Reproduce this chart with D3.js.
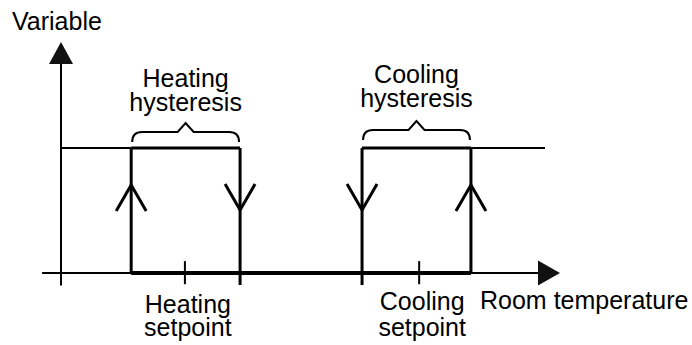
<html>
<head>
<style type="text/css">
	body { margin: 0; background: white; }
	.chart text { fill: black; font-family: "Liberation Sans", Arial, sans-serif; font-size: 25px; text-anchor: middle; }
</style>
</head>
<body>
<svg class="chart" width=692 height=345></svg>
<script src='https://d3js.org/d3.v7.min.js'></script>
<script>
// room temperature positions (arbitrary units on the x axis)
var heatingBand = [14.5, 37];      // heating on / off
var coolingBand = [62.2, 84.7];    // cooling off / on
var setpoints = [25.6, 74.0];      // heating setpoint, cooling setpoint
var xAxisExtent = [-3.9, 100];
// variable level: 0 = off, 1 = on
var levels = [0, 1];
var yAxisExtent = [-0.1, 1.68];

var topLabels = [["Heating", "hysteresis"], ["Cooling", "hysteresis"]];
var bottomLabels = [["Heating", "setpoint"], ["Cooling", "setpoint"]];
var axisLabels = ["Variable", "Room temperature"];

//Define Scales
var x = d3.scaleLinear()
	.domain([0, 100])
	.range([61, 545]);

var y = d3.scaleLinear()
	.domain([0, 1])
	.range([273, 148]);

var svg = d3.select("svg");
var line = d3.line();

function seg(x1, y1, x2, y2, w) {
	svg.append("path")
		.attr("d", line([[x(x1), y(y1)], [x(x2), y(y2)]]))
		.attr("stroke", "black")
		.attr("stroke-width", w)
		.attr("fill", "none");
}

//Axes
seg(xAxisExtent[0], levels[0], xAxisExtent[1], levels[0], 2);
seg(0, yAxisExtent[0], 0, yAxisExtent[1], 2);

// arrow heads
var xEnd = x(xAxisExtent[1]);
svg.append("path")
	.attr("d", line([[xEnd - 7, y(0) - 12.5], [xEnd + 15, y(0)], [xEnd - 7, y(0) + 12.5]]) + "Z")
	.attr("fill", "#111");
var yEnd = y(yAxisExtent[1]);
svg.append("path")
	.attr("d", line([[x(0) - 12, yEnd + 1], [x(0), yEnd - 21], [x(0) + 12, yEnd + 1]]) + "Z")
	.attr("fill", "#111");

//Setpoint ticks
setpoints.forEach(function(s) {
	seg(s, -0.09, s, 0.095, 2);
});

//Hysteresis loops
// top line of heating starts from y axis
seg(0, 1, heatingBand[0], 1, 2);
seg(heatingBand[0], 1, heatingBand[1], 1, 3);
seg(coolingBand[0], 1, coolingBand[1], 1, 3);
seg(coolingBand[1], 1, xAxisExtent[1], 1, 2);
// bottom (off) line
seg(heatingBand[0], 0, coolingBand[1], 0, 4);
// verticals, the off switches reach below the axis
seg(heatingBand[0], 0, heatingBand[0], 1, 3);
seg(heatingBand[1], -0.096, heatingBand[1], 1, 3);
seg(coolingBand[0], -0.096, coolingBand[0], 1, 3);
seg(coolingBand[1], 0, coolingBand[1], 1, 3);

// chevrons, dir 1 = up, -1 = down
function chevron(xv, dir) {
	var cx = x(xv);
	var tip = dir > 0 ? 185 : 210;
	var arm = tip + dir * 26;
	svg.append("path")
		.attr("d", line([[cx - 15, arm], [cx, tip], [cx + 15, arm]]))
		.attr("stroke", "black")
		.attr("stroke-width", 3)
		.attr("fill", "none");
}
chevron(heatingBand[0], 1);
chevron(heatingBand[1], -1);
chevron(coolingBand[0], -1);
chevron(coolingBand[1], 1);

// curly braces over each band
function brace(band, yb) {
	var x1 = x(band[0]) + 1, x2 = x(band[1]) - 1, m = (x1 + x2) / 2;
	var d = "M" + x1 + "," + (yb + 10) +
		" Q" + x1 + "," + yb + " " + (x1 + 10) + "," + yb +
		" L" + (m - 8) + "," + yb +
		" L" + m + "," + (yb - 9) +
		" L" + (m + 8) + "," + yb +
		" L" + (x2 - 10) + "," + yb +
		" Q" + x2 + "," + yb + " " + x2 + "," + (yb + 10);
	svg.append("path")
		.attr("d", d)
		.attr("stroke", "black")
		.attr("stroke-width", 2)
		.attr("fill", "none");
}
brace(heatingBand, 132);
brace(coolingBand, 130);

//Labels
var topY = [[87, 111], [83, 107]];
[heatingBand, coolingBand].forEach(function(b, i) {
	var cx = (x(b[0]) + x(b[1])) / 2;
	topLabels[i].forEach(function(t, j) {
		svg.append("text").attr("x", cx).attr("y", topY[i][j]).text(t);
	});
});

var botY = [[313, 336], [310, 336]];
setpoints.forEach(function(s, i) {
	bottomLabels[i].forEach(function(t, j) {
		svg.append("text").attr("x", x(s) + 3).attr("y", botY[i][j]).text(t);
	});
});

svg.append("text")
	.attr("x", 12).attr("y", 30)
	.style("text-anchor", "start")
	.text(axisLabels[0]);
svg.append("text")
	.attr("x", 480).attr("y", 309)
	.style("text-anchor", "start")
	.text(axisLabels[1]);
</script>
</body>
</html>
